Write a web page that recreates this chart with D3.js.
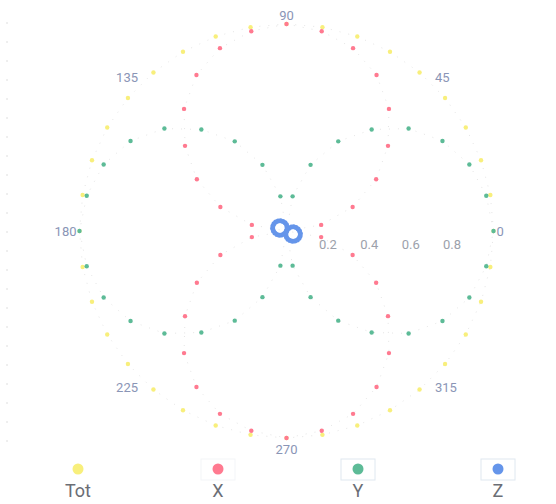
<!DOCTYPE html>
<html>
<head>
<meta charset="utf-8">
<title>polar pattern</title>
<script src="https://cdn.jsdelivr.net/npm/d3@7"></script>
<style>
  body { margin: 0; background: #fff; }
  text { font-family: Roboto, "Liberation Sans", Arial, sans-serif; }
</style>
</head>
<body>
<script>
// angles in degrees, one point every 10 deg
var angles = [0,10,20,30,40,50,60,70,80,90,100,110,120,130,140,150,160,170,
              180,190,200,210,220,230,240,250,260,270,280,290,300,310,320,330,340,350];

var totVals = [1,1,1,1,1,1,1,1,1,1,1,1,1,1,1,1,1,1,
               1,1,1,1,1,1,1,1,1,1,1,1,1,1,1,1,1,1];
var xVals = [0,0.17,0.34,0.5,0.64,0.77,0.87,0.94,0.98,1,0.98,0.94,0.87,0.77,0.64,0.5,0.34,0.17,
             0,0.17,0.34,0.5,0.64,0.77,0.87,0.94,0.98,1,0.98,0.94,0.87,0.77,0.64,0.5,0.34,0.17];
var yVals = [1,0.98,0.94,0.87,0.77,0.64,0.5,0.34,0.17,0,0.17,0.34,0.5,0.64,0.77,0.87,0.94,0.98,
             1,0.98,0.94,0.87,0.77,0.64,0.5,0.34,0.17,0,0.17,0.34,0.5,0.64,0.77,0.87,0.94,0.98];
var zVals = [0.063,0.057,0.049,0.040,0.030,0.018,0.006,0.006,0.018,0.030,0.040,0.049,0.057,0.063,0.068,0.070,0.070,0.068,
             0.063,0.057,0.049,0.040,0.030,0.018,0.006,0.006,0.018,0.030,0.040,0.049,0.057,0.063,0.068,0.070,0.070,0.068];

var seriesNames = ["Tot", "X", "Y", "Z"];
var seriesColors = ["#f8ef7c", "#ff7a90", "#5dbb97", "#6595ea"];
var angleTicks = [0,45,90,135,180,225,270,315];
var radialTicks = [0.2,0.4,0.6,0.8];

var width = 556, height = 504;
var cx = 286.5, cy = 231, R = 207;

var svg = d3.select("body").append("svg")
    .attr("width", width)
    .attr("height", height);

var r = d3.scaleLinear().domain([0, 1]).range([0, R]);
var rad = function(a) { return a * Math.PI / 180; };
var px = function(a, v) { return cx + r(v) * Math.cos(rad(a)); };
var py = function(a, v) { return cy - r(v) * Math.sin(rad(a)); };

// faint dotted frame on the left
svg.append("line")
    .attr("x1", 7).attr("x2", 7).attr("y1", 22).attr("y2", 458)
    .attr("stroke", "#dedede").attr("stroke-dasharray", "2,17");

var data = [totVals, xVals, yVals, zVals].map(function(vals, i) {
  return { name: seriesNames[i], color: seriesColors[i],
           pts: angles.map(function(a, j) { return { a: a, v: vals[j] }; }) };
});

var line = d3.lineRadial()
    .angle(function(d) { return rad(90 - d.a); })
    .radius(function(d) { return r(d.v); })
    .curve(d3.curveLinearClosed);

var g = svg.append("g").attr("transform", "translate(" + cx + "," + cy + ")");

// faint connecting lines
g.selectAll(".trace")
  .data(data.slice(0, 3))
  .enter().append("path")
    .attr("class", "trace")
    .attr("d", function(d) { return line(d.pts); })
    .attr("fill", "none")
    .attr("stroke", "#bdbdbd")
    .attr("stroke-width", 0.8)
    .attr("stroke-dasharray", "1,8")
    .attr("opacity", 0.5);

// markers
data.forEach(function(s) {
  svg.append("g").selectAll("circle")
    .data(s.pts)
    .enter().append("circle")
      .attr("cx", function(d) { return px(d.a, d.v); })
      .attr("cy", function(d) { return py(d.a, d.v); })
      .attr("r", s.name == "Z" ? 2.5 : 2.2)
      .attr("fill", s.color);
});

// angular labels
svg.append("g").selectAll("text")
  .data(angleTicks)
  .enter().append("text")
    .attr("x", function(a) { return px(a, 1) + Math.cos(rad(a)) * 3; })
    .attr("y", function(a) {
      var s = Math.sin(rad(a));
      return py(a, 1) - s * (s > 0 ? 4 : 7);
    })
    .attr("text-anchor", function(a) {
      var c = Math.cos(rad(a));
      return Math.abs(c) < 0.01 ? "middle" : (c > 0 ? "start" : "end");
    })
    .attr("dy", function(a) {
      var s = Math.sin(rad(a));
      return Math.abs(s) < 0.01 ? "0.35em" : (s > 0 ? "0" : "0.72em");
    })
    .attr("font-size", 13)
    .attr("fill", "#8a95b6")
    .text(function(a) { return a; });

// radial labels
svg.append("g").selectAll("text")
  .data(radialTicks)
  .enter().append("text")
    .attr("x", function(t) { return cx + r(t); })
    .attr("y", cy + 18)
    .attr("text-anchor", "middle")
    .attr("font-size", 13)
    .attr("fill", "#9ca1ab")
    .text(function(t) { return t; });

// legend
var legendX = d3.scalePoint().domain(seriesNames).range([78, 498]);
var leg = svg.append("g").selectAll("g")
  .data(data)
  .enter().append("g")
    .attr("transform", function(d) { return "translate(" + legendX(d.name) + ",0)"; });

leg.filter(function(d) { return d.name != "Tot"; })
  .append("rect")
    .attr("x", -17).attr("y", 459).attr("width", 34).attr("height", 21)
    .attr("fill", "none")
    .attr("stroke", function(d) { return d.name == "X" ? "#f3f5f8" : "#dfe8f0"; });

leg.append("circle")
    .attr("cx", 0).attr("cy", 469).attr("r", 5.5)
    .attr("fill", function(d) { return d.color; });

leg.append("text")
    .attr("x", 0).attr("y", 497)
    .attr("text-anchor", "middle")
    .attr("font-size", 18)
    .attr("fill", "#6b6e75")
    .text(function(d) { return d.name; });
</script>
</body>
</html>
